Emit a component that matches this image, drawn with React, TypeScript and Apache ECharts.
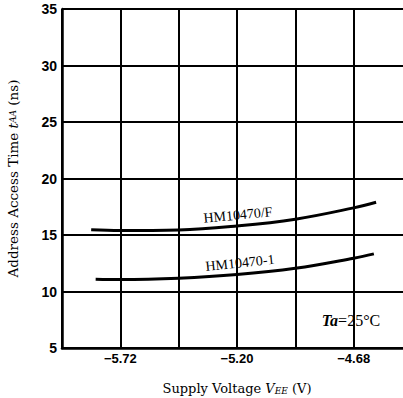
import React, { useEffect, useRef } from "react";
import * as echarts from "echarts";

const xTicksShown = [-5.72, -5.2, -4.68];
const yTicks = [5, 10, 15, 20, 25, 30, 35];
const seriesNames = ["HM10470/F", "HM10470-1"];
const voltF = [-5.85, -5.72, -5.46, -5.2, -4.94, -4.68, -4.58];
const timeF = [15.47, 15.4, 15.45, 15.8, 16.4, 17.4, 17.9];
const volt1 = [-5.83, -5.72, -5.46, -5.2, -4.94, -4.68, -4.59];
const time1 = [11.09, 11.06, 11.18, 11.5, 12.06, 12.95, 13.33];

export default function App() {
  const ref = useRef<HTMLDivElement>(null);
  useEffect(() => {
    if (!ref.current) return;
    const chart = echarts.init(ref.current, null, { renderer: "svg" });
    const serif = "DejaVu Serif";
    const tickFont = { fontFamily: "Liberation Sans", fontWeight: "bold" as const, fontSize: 13, color: "#000" };
    chart.setOption({
      animation: false,
      backgroundColor: "#fff",
      grid: { left: 62, top: 9, bottom: 50, right: -9, outerBoundsMode: "none", containLabel: false },
      xAxis: {
        type: "value",
        min: -5.98,
        max: -4.42,
        interval: 0.26,
        axisLine: { show: true, onZero: false, lineStyle: { color: "#000", width: 2.5 } },
        axisTick: { show: false },
        splitLine: { show: true, lineStyle: { color: "#000", width: 2 } },
        axisLabel: {
          ...tickFont,
          margin: 4,
          formatter: (v: number) => {
            const hit = xTicksShown.find((t) => Math.abs(t - v) < 1e-6);
            return hit === undefined ? "" : "\u2212" + Math.abs(hit).toFixed(2);
          },
        },
        name: "Supply Voltage {i|V}{s|EE} (V)",
        nameLocation: "middle",
        nameGap: 34,
        nameTextStyle: {
          fontFamily: serif,
          fontSize: 13,
          color: "#000",
          rich: {
            i: { fontFamily: serif, fontStyle: "italic", fontSize: 13, color: "#000" },
            s: { fontFamily: serif, fontStyle: "italic", fontSize: 9, color: "#000", verticalAlign: "bottom" },
          },
        },
      },
      yAxis: {
        type: "value",
        min: 5,
        max: 35,
        interval: 5,
        axisLine: { show: true, onZero: false, lineStyle: { color: "#000", width: 2.5 } },
        axisTick: { show: false },
        splitLine: { show: true, lineStyle: { color: "#000", width: 2 } },
        axisLabel: {
          ...tickFont,
          fontSize: 14,
          margin: 5,
          formatter: (v: number) => (yTicks.includes(v) ? String(v) : ""),
        },
        name: "Address Access Time {i|t}{s|AA} (ns)",
        nameLocation: "middle",
        nameGap: 42,
        nameTextStyle: {
          fontFamily: serif,
          fontSize: 13.5,
          color: "#000",
          rich: {
            i: { fontFamily: serif, fontStyle: "italic", fontSize: 13.5, color: "#000" },
            s: { fontFamily: serif, fontStyle: "italic", fontSize: 9, color: "#000" },
          },
        },
      },
      series: [
        {
          name: seriesNames[0],
          type: "line",
          smooth: 0.4,
          symbol: "none",
          data: voltF.map((v, i) => [v, timeF[i]]),
          lineStyle: { color: "#000", width: 3 },
        },
        {
          name: seriesNames[1],
          type: "line",
          smooth: 0.4,
          symbol: "none",
          data: volt1.map((v, i) => [v, time1[i]]),
          lineStyle: { color: "#000", width: 3 },
        },
      ],
      graphic: [
        {
          type: "text",
          x: 238,
          y: 215,
          rotation: (5.5 * Math.PI) / 180,
          style: { text: seriesNames[0], font: "14px 'Liberation Serif'", fill: "#000", align: "center", verticalAlign: "middle" },
        },
        {
          type: "text",
          x: 240,
          y: 263,
          rotation: (6 * Math.PI) / 180,
          style: { text: seriesNames[1], font: "14px 'Liberation Serif'", fill: "#000", align: "center", verticalAlign: "middle" },
        },
        {
          type: "text",
          x: 351,
          y: 320,
          style: {
            text: "{i|Ta}{n|=25\u00b0C}",
            align: "center",
            verticalAlign: "middle",
            rich: {
              i: { fontFamily: "Liberation Serif", fontStyle: "italic", fontWeight: "bold", fontSize: 16, fill: "#000" },
              n: { fontFamily: "Liberation Serif", fontSize: 16, fill: "#000" },
            },
          },
        },
      ],
    });
    return () => chart.dispose();
  }, []);
  return <div ref={ref} style={{ position: "fixed", left: 0, top: 0, width: 403, height: 398 }} />;
}
